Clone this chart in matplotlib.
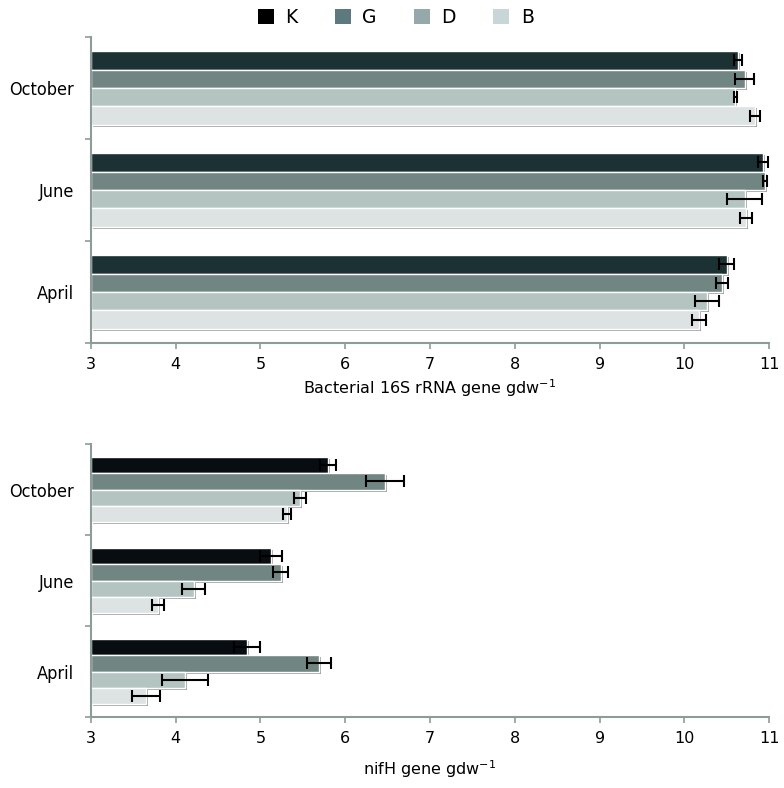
import numpy as np
import matplotlib
matplotlib.use("Agg")
import matplotlib.pyplot as plt
import matplotlib.patheffects as pe
from matplotlib.patches import Patch
from matplotlib import font_manager

months = ["April", "June", "October"]
sites = ["K", "G", "D", "B"]

# Bacterial 16S rRNA (log copies per g dry weight), rows = months, cols = sites
bact = [[10.50, 10.44, 10.27, 10.17],
        [10.93, 10.95, 10.71, 10.73],
        [10.63, 10.71, 10.60, 10.83]]
bact_err = [[0.09, 0.07, 0.14, 0.08],
            [0.06, 0.02, 0.21, 0.07],
            [0.05, 0.11, 0.02, 0.06]]

# nifH
nifh = [[4.84, 5.69, 4.11, 3.65],
        [5.12, 5.24, 4.21, 3.79],
        [5.80, 6.47, 5.47, 5.31]]
nifh_err = [[0.15, 0.14, 0.27, 0.16],
            [0.13, 0.09, 0.14, 0.07],
            [0.095, 0.22, 0.07, 0.05]]

colors_top = ["#1c3134", "#718683", "#b3c4c1", "#dce3e2"]
colors_bot = ["#070d10", "#718683", "#b3c4c1", "#dce3e2"]
legend_colors = ["#000000", "#5e7880", "#95a8ab", "#c9d6d8"]

spine_col = "#8c9c99"
bar_h = 0.18
offsets = [0.27, 0.09, -0.09, -0.27]

# condensed face for the month labels, if there is one
cond = font_manager.FontProperties(family="DejaVu Sans", stretch="condensed", size=13)

fig = plt.figure(figsize=(7.84, 7.88), dpi=100)
ax1 = fig.add_axes([0.116, 0.5647, 0.865, 0.3883])
ax2 = fig.add_axes([0.116, 0.0901, 0.865, 0.3464])

shadow = [pe.SimplePatchShadow(offset=(1.5, -1.5), shadow_rgbFace="#555555", alpha=0.55),
          pe.Normal()]


def draw(ax, vals, errs, cols, xlabel):
    vals = np.array(vals)
    errs = np.array(errs)
    y = np.arange(len(months))
    for j in range(len(sites)):
        bars = ax.barh(y + offsets[j], vals[:, j] - 3, left=3, height=bar_h,
                       color=cols[j], edgecolor="white", linewidth=1.0, zorder=2)
        for b in bars:
            b.set_path_effects(shadow)
        ax.errorbar(vals[:, j], y + offsets[j], xerr=errs[:, j], fmt="none",
                    ecolor="black", elinewidth=1.5, capsize=4.5, capthick=1.5, zorder=3)
    ax.set_xlim(3, 11)
    ax.set_ylim(-0.5, 2.5)
    ax.set_xticks(range(3, 12))
    ax.set_yticks(y)
    ax.set_yticklabels(months)
    for t in ax.get_yticklabels():
        t.set_fontproperties(cond)
    ax.set_yticks(np.arange(-0.5, 2.6, 1.0), minor=True)
    ax.tick_params(axis="y", which="major", length=0, pad=12)
    ax.tick_params(axis="y", which="minor", length=4, color=spine_col, width=1.2)
    ax.tick_params(axis="x", length=4, color=spine_col, width=1.2, labelsize=11.5, pad=6)
    for s in ["top", "right"]:
        ax.spines[s].set_visible(False)
    for s in ["left", "bottom"]:
        ax.spines[s].set_color(spine_col)
        ax.spines[s].set_linewidth(1.5)
    ax.set_xlabel(xlabel, fontsize=11.5, labelpad=4)


draw(ax1, bact, bact_err, colors_top, "Bacterial 16S rRNA gene gdw$^{-1}$")
draw(ax2, nifh, nifh_err, colors_bot, "nifH gene gdw$^{-1}$")
ax2.xaxis.labelpad = 9

handles = [Patch(facecolor=c, edgecolor="none") for c in legend_colors]
fig.legend(handles, sites, loc="center", bbox_to_anchor=(0.505, 0.978), ncol=4,
           frameon=False, fontsize=13.5, handlelength=0.85, handleheight=0.85,
           handletextpad=0.6, columnspacing=2.0)

fig.savefig("out.png", dpi=100)
